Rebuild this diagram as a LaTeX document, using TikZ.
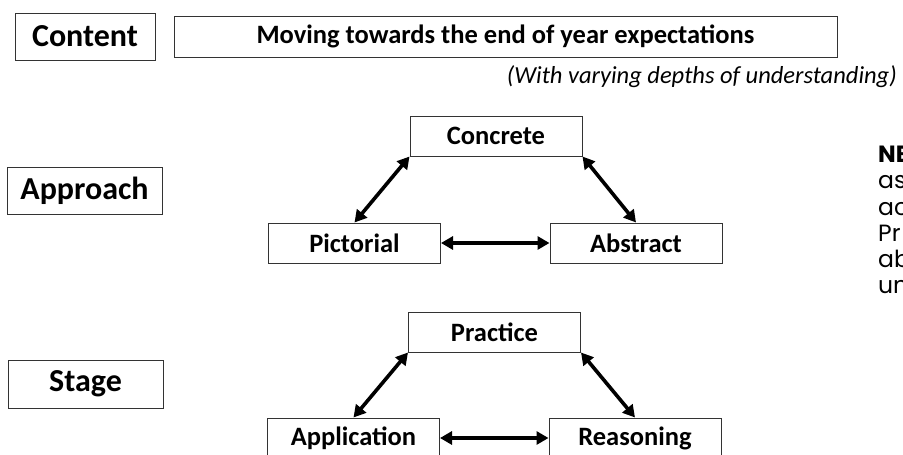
\documentclass[tikz,border=0pt]{standalone}
\usepackage{fontspec}
\setmainfont{Carlito}
\newfontfamily\notefont{Poppins}
\usetikzlibrary{arrows.meta}
\begin{document}
\begin{tikzpicture}[x=1pt,y=-1pt,
  box/.style={draw=black!80, line width=1pt, rectangle, inner sep=0pt},
  lbl/.style={box, minimum width=155pt, minimum height=47pt, font=\bfseries\fontsize{32}{32}\selectfont},
  cell/.style={box, minimum width=172pt, minimum height=40pt, font=\bfseries\fontsize{26.5}{26.5}\selectfont},
  link/.style={line width=3.6pt, {Triangle[length=12pt,width=13pt]}-{Triangle[length=12pt,width=13pt]}}
]
\useasboundingbox (0,0) rectangle (903,455);
\clip (0,0) rectangle (903,455);
% left labels
\node[lbl, minimum width=140pt] (content) at (85,36.5) {Content};
\node[lbl] (approach) at (84.5,190.5) {Approach};
\node[lbl, minimum height=48pt] (stage) at (85.5,384) {Stage};
% content bar
\node[box, minimum width=663pt, minimum height=41pt, font=\bfseries\fontsize{26.5}{26.5}\selectfont] (moving) at (505.5,36.5) {Moving towards the end of year expectations};
\node[anchor=base east, inner sep=0pt, font=\itshape\fontsize{24.5}{24.5}\selectfont] (depth) at (897,83) {(With varying depths of understanding)};
% approach triangle
\node[cell] (concrete) at (496,136) {Concrete};
\node[cell] (pictorial) at (354.5,243) {Pictorial};
\node[cell] (abstract) at (636,243) {Abstract};
\draw[link] (concrete.south west) -- (pictorial.north);
\draw[link] (concrete.south east) -- (abstract.north);
\draw[link] (pictorial.east) -- (abstract.west);
% stage triangle
\node[cell] (practice) at (494.5,332) {Practice};
\node[cell] (application) at (353.5,438) {Application};
\node[cell] (reasoning) at (635,438) {Reasoning};
\draw[link] (practice.south west) -- (application.north);
\draw[link] (practice.south east) -- (reasoning.north);
\draw[link] (application.east) -- (reasoning.west);
% clipped note
\node[anchor=north west, align=left, inner sep=0pt, font=\notefont\fontsize{23.5}{26.2}\selectfont] (note) at (878,146) {\textbf{NB}\\as\\ac\\Pr\\ab\\un};
\end{tikzpicture}
\end{document}
